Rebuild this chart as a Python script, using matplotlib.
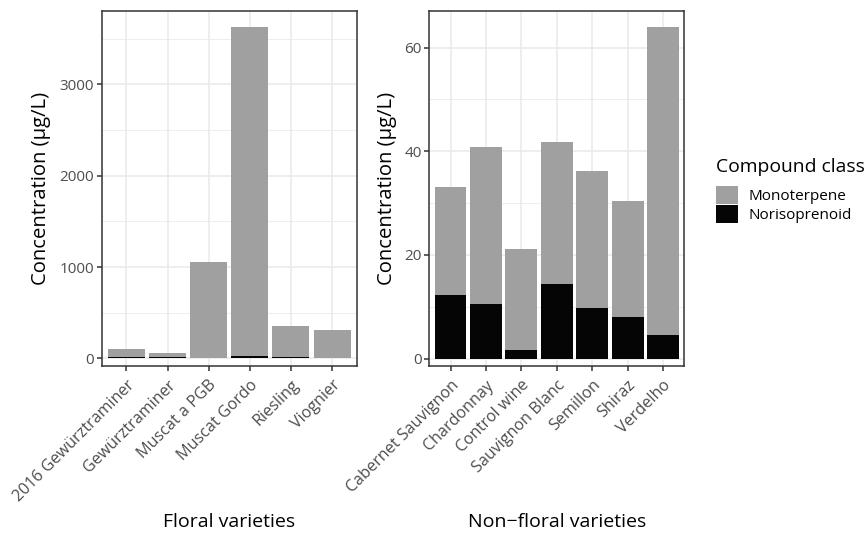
import matplotlib

matplotlib.use("Agg")
import matplotlib.pyplot as plt
import numpy as np
from matplotlib.patches import Patch
from matplotlib.ticker import MultipleLocator

plt.rcParams["font.family"] = ["Open Sans", "DejaVu Sans"]

GREY = "#A0A0A0"
BLACK = "#050505"
GRID = "#EBEBEB"
BORDER = "#333333"
TICKTXT = "#4D4D4D"

# data (µg/L)
floral = ["2016 Gewürztraminer", "Gewürztraminer", "Muscat a PGB",
          "Muscat Gordo", "Riesling", "Viognier"]
floral_total = [102, 58, 1055, 3628, 354, 310]
floral_noriso = [10, 10, 8, 22, 20, 9]

nonfloral = ["Cabernet Sauvignon", "Chardonnay", "Control wine",
             "Sauvignon Blanc", "Semillon", "Shiraz", "Verdelho"]
nonfloral_total = [33.1, 40.9, 21.2, 41.8, 36.2, 30.4, 64.0]
nonfloral_noriso = [12.3, 10.5, 1.7, 14.4, 9.8, 8.0, 4.6]

classes = ["Monoterpene", "Norisoprenoid"]

W, H = 868, 533
fig = plt.figure(figsize=(W / 100, H / 100), dpi=100)

TXT = 11
XTXT = 11.6
TITLE = 14


def px(x0, y0, x1, y1):
    return [x0 / W, 1 - y1 / H, (x1 - x0) / W, (y1 - y0) / H]


def panel(rect, cats, total, noriso, ylim, major, minor, xlabel, ylab_x):
    ax = fig.add_axes(rect)
    x = np.arange(len(cats))
    noriso = np.array(noriso)
    mono = np.array(total) - noriso
    ax.bar(x, noriso, width=0.9, color=BLACK, zorder=2)
    ax.bar(x, mono, width=0.9, bottom=noriso, color=GREY, zorder=2)
    ax.set_xlim(-0.6, len(cats) - 0.4)
    ax.set_ylim(*ylim)
    ax.yaxis.set_major_locator(MultipleLocator(major))
    ax.yaxis.set_minor_locator(MultipleLocator(minor))
    ax.set_xticks(x)
    ax.set_xticklabels(cats, rotation=45, ha="right", va="top",
                       rotation_mode="anchor", fontsize=XTXT)
    ax.grid(True, which="major", color=GRID, lw=1.2, zorder=0)
    ax.grid(True, which="minor", axis="y", color=GRID, lw=0.6, zorder=0)
    ax.set_axisbelow(True)
    for s in ax.spines.values():
        s.set_color(BORDER)
        s.set_linewidth(1.1)
    ax.tick_params(which="major", length=3.3, width=1.1, color=BORDER,
                   labelcolor=TICKTXT)
    ax.tick_params(axis="y", labelsize=TXT, pad=2)
    ax.tick_params(axis="x", pad=5)
    ax.tick_params(which="minor", length=0)

    # axis titles placed at fixed pixel positions (both panels share them)
    h = rect[3] * H
    w = rect[2] * W
    top = (1 - rect[1] - rect[3]) * H
    ax.set_ylabel("Concentration (µg/L)", fontsize=14.6, va="center")
    ax.yaxis.set_label_coords((ylab_x - rect[0] * W) / w, 0.5)
    ax.set_xlabel(xlabel, fontsize=TITLE, va="baseline")
    ax.xaxis.set_label_coords(0.5, (top + h - 527) / h)
    return ax


panel(px(101.7, 11.3, 356.7, 365.7), floral, floral_total, floral_noriso,
      (-80, 3800), 1000, 500, "Floral varieties", 41)
panel(px(429.3, 11.3, 684.3, 365.7), nonfloral, nonfloral_total,
      nonfloral_noriso, (-1.35, 67.0), 20, 10, "Non\u2212floral varieties", 387)

fig.text(716 / W, 1 - 172 / H, "Compound class", fontsize=13.9,
         ha="left", va="baseline")

handles = [Patch(facecolor=GREY, edgecolor="none"),
           Patch(facecolor=BLACK, edgecolor="none")]
fs_px = TXT * 100 / 72
fig.legend(handles, classes, loc="upper left",
           bbox_to_anchor=(716 / W, 1 - 186 / H), frameon=False,
           fontsize=TXT, handlelength=22 / fs_px, handleheight=22 / fs_px,
           handletextpad=11 / fs_px, labelspacing=1 / fs_px,
           borderpad=0, borderaxespad=0)

fig.savefig("out.png", dpi=100, facecolor="white")
